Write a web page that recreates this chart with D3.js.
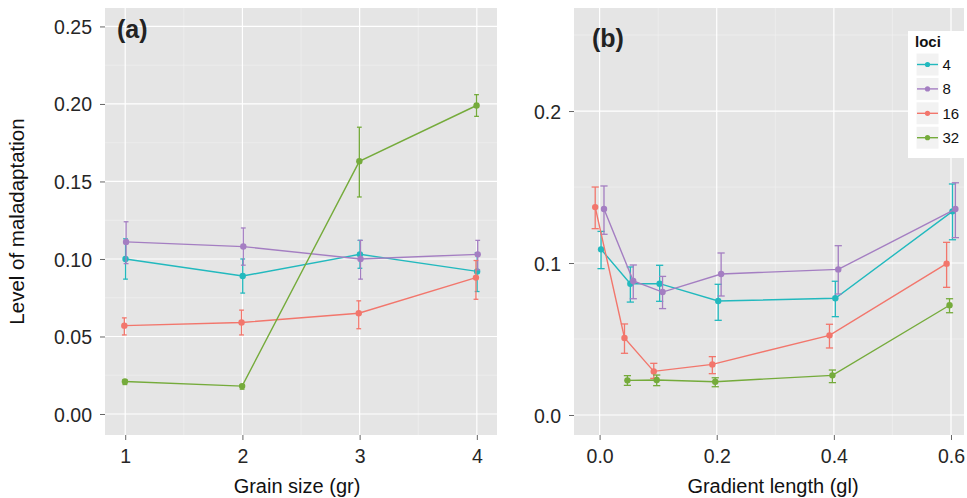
<!DOCTYPE html>
<html>
<head>
<meta charset="utf-8">
<script src="https://cdn.jsdelivr.net/npm/d3@7"></script>
<style>
body { margin: 0; background: #fff; }
text { font-family: "Liberation Sans", Arial, Helvetica, sans-serif; }
</style>
</head>
<body>
<script>
var loci = ["4", "8", "16", "32"]
var loci_color = ["#22b9be", "#a47ec2", "#f2766c", "#75ab3b"]
var dodge_rank = [2, 3, 0, 1]   // position_dodge order of the groups
var dodge_width = 0.02

// panel (a) : grain size
var grain = [1, 2, 3, 4]
var grain_mean = [
    [0.100, 0.089, 0.103, 0.092],
    [0.111, 0.108, 0.100, 0.103],
    [0.057, 0.059, 0.065, 0.088],
    [0.021, 0.018, 0.163, 0.199]
]
var grain_low = [
    [0.087, 0.078, 0.094, 0.079],
    [0.097, 0.096, 0.087, 0.093],
    [0.051, 0.051, 0.055, 0.074],
    [0.019, 0.016, 0.140, 0.192]
]
var grain_high = [
    [0.113, 0.100, 0.112, 0.104],
    [0.124, 0.120, 0.112, 0.112],
    [0.062, 0.067, 0.073, 0.099],
    [0.022, 0.019, 0.185, 0.206]
]

// panel (b) : gradient length
var gradient = [0, 0.05, 0.1, 0.2, 0.4, 0.6]
var gradient_mean = [
    [0.109, 0.0864, 0.0864, 0.075, 0.0768, 0.134],
    [0.1355, 0.0882, 0.0809, 0.0928, 0.0958, 0.1355],
    [0.1368, 0.0507, 0.0287, 0.0333, 0.0524, 0.0996],
    [null, 0.0228, 0.023, 0.0219, 0.0261, 0.0722]
]
var gradient_low = [
    [0.0963, 0.0743, 0.0748, 0.0623, 0.0647, 0.1153],
    [0.1189, 0.0765, 0.070, 0.0783, 0.0796, 0.1167],
    [0.1226, 0.0406, 0.0241, 0.0272, 0.0441, 0.084],
    [null, 0.0195, 0.0193, 0.0186, 0.0213, 0.0673]
]
var gradient_high = [
    [0.1208, 0.0974, 0.0985, 0.086, 0.088, 0.152],
    [0.1507, 0.0987, 0.0912, 0.1066, 0.1114, 0.1528],
    [0.150, 0.0599, 0.034, 0.0384, 0.0597, 0.1136],
    [null, 0.0259, 0.0263, 0.0245, 0.0296, 0.0765]
]

var x_ticks_a = [1, 2, 3, 4]
var y_ticks_a = [0, 0.05, 0.10, 0.15, 0.20, 0.25]
var x_ticks_b = [0, 0.2, 0.4, 0.6]
var y_ticks_b = [0, 0.1, 0.2]

var svg = d3.select("body").append("svg")
    .attr("width", 967)
    .attr("height", 498)

function minorTicks(ticks, domain) {
    var res = []
    var step = ticks[1] - ticks[0]
    var lo = Math.min(domain[0], domain[1]), hi = Math.max(domain[0], domain[1])
    for (var v = ticks[0] - step / 2; v <= ticks[ticks.length - 1] + step; v += step) {
        if (v > lo && v < hi) res.push(v)
    }
    return res
}

function drawPanel(p) {
    var x = d3.scaleLinear().domain(p.xdomain).range([p.left, p.right])
    var y = d3.scaleLinear().domain(p.ydomain).range([p.bottom, p.top])

    var g = svg.append("g")

    g.append("rect")
        .attr("x", p.left).attr("y", p.top)
        .attr("width", p.right - p.left).attr("height", p.bottom - p.top)
        .attr("fill", "#e5e5e5")

    // minor grid
    g.selectAll(".minor-x").data(minorTicks(p.xticks, p.xdomain)).enter()
        .append("line")
        .attr("x1", d => x(d)).attr("x2", d => x(d))
        .attr("y1", p.top).attr("y2", p.bottom)
        .attr("stroke", "#f2f2f2").attr("stroke-width", 0.6)
    g.selectAll(".minor-y").data(minorTicks(p.yticks, p.ydomain)).enter()
        .append("line")
        .attr("y1", d => y(d)).attr("y2", d => y(d))
        .attr("x1", p.left).attr("x2", p.right)
        .attr("stroke", "#f2f2f2").attr("stroke-width", 0.6)

    // major grid
    g.selectAll(".major-x").data(p.xticks).enter()
        .append("line")
        .attr("x1", d => x(d)).attr("x2", d => x(d))
        .attr("y1", p.top).attr("y2", p.bottom)
        .attr("stroke", "#ffffff").attr("stroke-width", 1.2)
    g.selectAll(".major-y").data(p.yticks).enter()
        .append("line")
        .attr("y1", d => y(d)).attr("y2", d => y(d))
        .attr("x1", p.left).attr("x2", p.right)
        .attr("stroke", "#ffffff").attr("stroke-width", 1.2)

    // axes
    var xAxis = g.append("g")
        .attr("transform", "translate(0," + p.bottom + ")")
        .call(d3.axisBottom(x).tickValues(p.xticks).tickFormat(d3.format(p.xformat)).tickSize(5).tickPadding(9))
    var yAxis = g.append("g")
        .attr("transform", "translate(" + p.left + ",0)")
        .call(d3.axisLeft(y).tickValues(p.yticks).tickFormat(d3.format(p.yformat)).tickSize(5).tickPadding(8))
    ;[xAxis, yAxis].forEach(function (a) {
        a.select(".domain").remove()
        a.selectAll(".tick line").attr("stroke", "#666")
        a.selectAll(".tick text").attr("fill", "#262626").style("font-size", "19.5px")
    })
    yAxis.selectAll(".tick text").attr("dy", "0.36em")

    g.append("text")
        .attr("x", (p.left + p.right) / 2 + p.titleShift).attr("y", 493)
        .attr("text-anchor", "middle")
        .style("font-size", "20px").attr("fill", "#111")
        .text(p.xtitle)

    // series
    var line = d3.line()
        .defined(d => d.m != null)
        .x(d => x(d.x)).y(d => y(d.m))

    loci.forEach(function (l, i) {
        var off = (dodge_rank[i] - 1.5) * dodge_width / 4
        var pts = p.xs.map(function (xv, j) {
            return { x: xv + off, m: p.mean[i][j], lo: p.low[i][j], hi: p.high[i][j] }
        })
        var col = loci_color[i]
        var s = g.append("g")

        var bars = s.selectAll(".eb").data(pts.filter(d => d.m != null)).enter().append("g")
        bars.append("line")
            .attr("x1", d => x(d.x)).attr("x2", d => x(d.x))
            .attr("y1", d => y(d.lo)).attr("y2", d => y(d.hi))
            .attr("stroke", col).attr("stroke-width", 1.3)
        bars.append("line")
            .attr("x1", d => x(d.x) - p.cap).attr("x2", d => x(d.x) + p.cap)
            .attr("y1", d => y(d.lo)).attr("y2", d => y(d.lo))
            .attr("stroke", col).attr("stroke-width", 1.3)
        bars.append("line")
            .attr("x1", d => x(d.x) - p.cap).attr("x2", d => x(d.x) + p.cap)
            .attr("y1", d => y(d.hi)).attr("y2", d => y(d.hi))
            .attr("stroke", col).attr("stroke-width", 1.3)

        s.append("path")
            .datum(pts)
            .attr("d", line)
            .attr("fill", "none")
            .attr("stroke", col).attr("stroke-width", 1.4)

        s.selectAll("circle").data(pts.filter(d => d.m != null)).enter()
            .append("circle")
            .attr("cx", d => x(d.x)).attr("cy", d => y(d.m))
            .attr("r", 3.2)
            .attr("fill", col)
    })

    g.append("text")
        .attr("x", p.labx).attr("y", p.laby)
        .style("font-size", "25px").style("font-weight", "bold")
        .attr("fill", "#222")
        .text(p.label)
}

drawPanel({
    left: 105, right: 497, top: 8, bottom: 435,
    xdomain: [0.8276, 4.172], ydomain: [-0.01355, 0.2619],
    xticks: x_ticks_a, yticks: y_ticks_a, xformat: "d", yformat: ".2f",
    xs: grain, mean: grain_mean, low: grain_low, high: grain_high,
    cap: 2.4, titleShift: -4,
    xtitle: "Grain size (gr)", label: "(a)", labx: 117, laby: 38
})

drawPanel({
    left: 574, right: 964, top: 8, bottom: 435,
    xdomain: [-0.0437, 0.6222], ydomain: [-0.01316, 0.2678],
    xticks: x_ticks_b, yticks: y_ticks_b, xformat: ".1f", yformat: ".1f",
    xs: gradient, mean: gradient_mean, low: gradient_low, high: gradient_high,
    cap: 3.6, titleShift: 4,
    xtitle: "Gradient length (gl)", label: "(b)", labx: 592, laby: 47
})

// y axis title
svg.append("text")
    .attr("transform", "translate(24,221.5) rotate(-90)")
    .attr("text-anchor", "middle")
    .style("font-size", "20.5px").attr("fill", "#111")
    .text("Level of maladaptation")

// legend
var legend = svg.append("g").attr("transform", "translate(908,31)")
legend.append("rect")
    .attr("width", 57).attr("height", 127)
    .attr("fill", "#ffffff")
legend.append("text")
    .attr("x", 7).attr("y", 15.5)
    .style("font-size", "15px").style("font-weight", "bold")
    .attr("fill", "#111")
    .text("loci")

var items = legend.selectAll(".legend-item")
    .data(loci)
    .enter()
    .append("g")
    .attr("class", "legend-item")
    .attr("transform", (d, i) => "translate(8," + (22 + i * 24.4) + ")")
items.append("rect")
    .attr("width", 23).attr("height", 23)
    .attr("fill", "#f2f2f2").attr("stroke", "#ffffff")
items.append("line")
    .attr("x1", 1).attr("x2", 22).attr("y1", 11.5).attr("y2", 11.5)
    .attr("stroke", (d, i) => loci_color[i]).attr("stroke-width", 1.4)
items.append("circle")
    .attr("cx", 11.5).attr("cy", 11.5).attr("r", 2.6)
    .attr("fill", (d, i) => loci_color[i])
items.append("text")
    .attr("x", 26.5).attr("y", 11.5).attr("dy", "0.36em")
    .style("font-size", "15px").attr("fill", "#111")
    .text(d => d)
</script>
</body>
</html>
